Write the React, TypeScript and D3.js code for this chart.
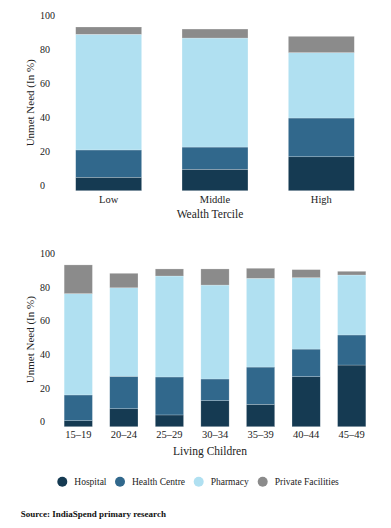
import { useEffect, useRef } from "react";
import * as d3 from "d3";

// facility types, bottom to top of every bar
const keys = ["Hospital", "Health Centre", "Pharmacy", "Private Facilities"];
const colors = ["#153a52", "#31688c", "#b0e0f1", "#8b8b8b"];

// wealth tercile chart
const terciles = ["Low", "Middle", "High"];
const tercHospital = [7.9, 12.6, 20.0];
const tercHealth = [16.1, 13.1, 22.8];
const tercPharmacy = [68.1, 64.2, 38.5];
const tercPrivate = [4.3, 5.3, 9.6];

// living children chart
const ages = ["15–19", "20–24", "25–29", "30–34", "35–39", "40–44", "45–49"];
const ageHospital = [3.6, 10.7, 7.0, 15.5, 13.3, 29.8, 36.7];
const ageHealth = [15.3, 19.3, 22.6, 12.9, 22.2, 16.4, 17.9];
const agePharmacy = [60.3, 52.7, 60.1, 55.9, 52.8, 42.5, 35.7];
const agePrivate = [17.1, 8.6, 4.2, 9.6, 6.0, 4.8, 2.2];

const yTicks = [0, 20, 40, 60, 80, 100];

const W = 391;
const H = 528;
const FONT = "'Liberation Serif', 'Times New Roman', serif";

function rows(cats: string[], series: number[][]) {
  return cats.map((c, i) => {
    const r: any = { cat: c };
    keys.forEach((k, j) => (r[k] = series[j][i]));
    return r;
  });
}

function drawPanel(
  svg: d3.Selection<SVGSVGElement, unknown, null, undefined>,
  cats: string[],
  series: number[][],
  y0: number,
  y100: number,
  catLabelY: number,
  title: string,
  titleY: number
) {
  const g = svg.append("g");
  const x = d3
    .scaleBand()
    .domain(cats)
    .range([55.5, 374.5])
    .paddingInner(0.38)
    .paddingOuter(0.19);
  const y = d3.scaleLinear().domain([0, 100]).range([y0, y100]);

  const stacked = d3.stack<any>().keys(keys)(rows(cats, series));

  g.selectAll("g.layer")
    .data(stacked)
    .join("g")
    .attr("class", "layer")
    .attr("fill", (_d, i) => colors[i])
    .selectAll("rect")
    .data((d) => d)
    .join("rect")
    .attr("x", (d: any) => x(d.data.cat)!)
    .attr("width", x.bandwidth())
    .attr("y", (d) => y(d[1]))
    .attr("height", (d) => y(d[0]) - y(d[1]))
    .attr("stroke", "rgba(255,255,255,0.35)")
    .attr("stroke-width", 0.6);

  // y tick labels sit just above their value, left aligned
  g.selectAll("text.ytick")
    .data(yTicks)
    .join("text")
    .attr("class", "ytick")
    .attr("x", 40)
    .attr("y", (d) => y(d) - 5)
    .attr("dominant-baseline", "central")
    .attr("font-family", FONT)
    .attr("font-size", 10)
    .attr("fill", "#222")
    .text((d) => d);

  g.selectAll("text.xtick")
    .data(cats)
    .join("text")
    .attr("class", "xtick")
    .attr("x", (d) => x(d)! + x.bandwidth() / 2)
    .attr("y", catLabelY)
    .attr("text-anchor", "middle")
    .attr("dominant-baseline", "central")
    .attr("font-family", FONT)
    .attr("font-size", 10.5)
    .attr("fill", "#222")
    .text((d) => d);

  g.append("text")
    .attr("transform", `translate(29.5, ${(y0 + y100) / 2 - 3}) rotate(-90)`)
    .attr("text-anchor", "middle")
    .attr("dominant-baseline", "central")
    .attr("font-family", FONT)
    .attr("font-size", 11)
    .attr("fill", "#222")
    .text("Unmet Need (In %)");

  g.append("text")
    .attr("x", 210)
    .attr("y", titleY)
    .attr("text-anchor", "middle")
    .attr("dominant-baseline", "central")
    .attr("font-family", FONT)
    .attr("font-size", 11.5)
    .attr("fill", "#222")
    .text(title);
}

export default function App() {
  const ref = useRef<SVGSVGElement>(null);

  useEffect(() => {
    const svg = d3.select(ref.current!);
    svg.selectAll("*").remove();

    drawPanel(
      svg,
      terciles,
      [tercHospital, tercHealth, tercPharmacy, tercPrivate],
      190.7,
      20.9,
      199,
      "Wealth Tercile",
      214
    );
    drawPanel(
      svg,
      ages,
      [ageHospital, ageHealth, agePharmacy, agePrivate],
      426.7,
      258.7,
      434.3,
      "Living Children",
      450.7
    );

    // legend
    const legendX = [62.3, 120, 198.7, 262.7];
    const lg = svg.append("g");
    keys.forEach((k, i) => {
      lg.append("circle")
        .attr("cx", legendX[i])
        .attr("cy", 481.7)
        .attr("r", 5)
        .attr("fill", colors[i]);
      lg.append("text")
        .attr("x", legendX[i] + 12)
        .attr("y", 481.7)
        .attr("dominant-baseline", "central")
        .attr("font-family", FONT)
        .attr("font-size", 9.5)
        .attr("fill", "#222")
        .text(k);
    });

    svg
      .append("text")
      .attr("x", 20.7)
      .attr("y", 514.3)
      .attr("dominant-baseline", "central")
      .attr("font-family", FONT)
      .attr("font-size", 9)
      .attr("font-weight", "bold")
      .attr("fill", "#111")
      .text("Source: IndiaSpend primary research");
  }, []);

  return (
    <svg
      ref={ref}
      width={W}
      height={H}
      style={{ position: "absolute", left: 0, top: 0, background: "#fff" }}
    />
  );
}
